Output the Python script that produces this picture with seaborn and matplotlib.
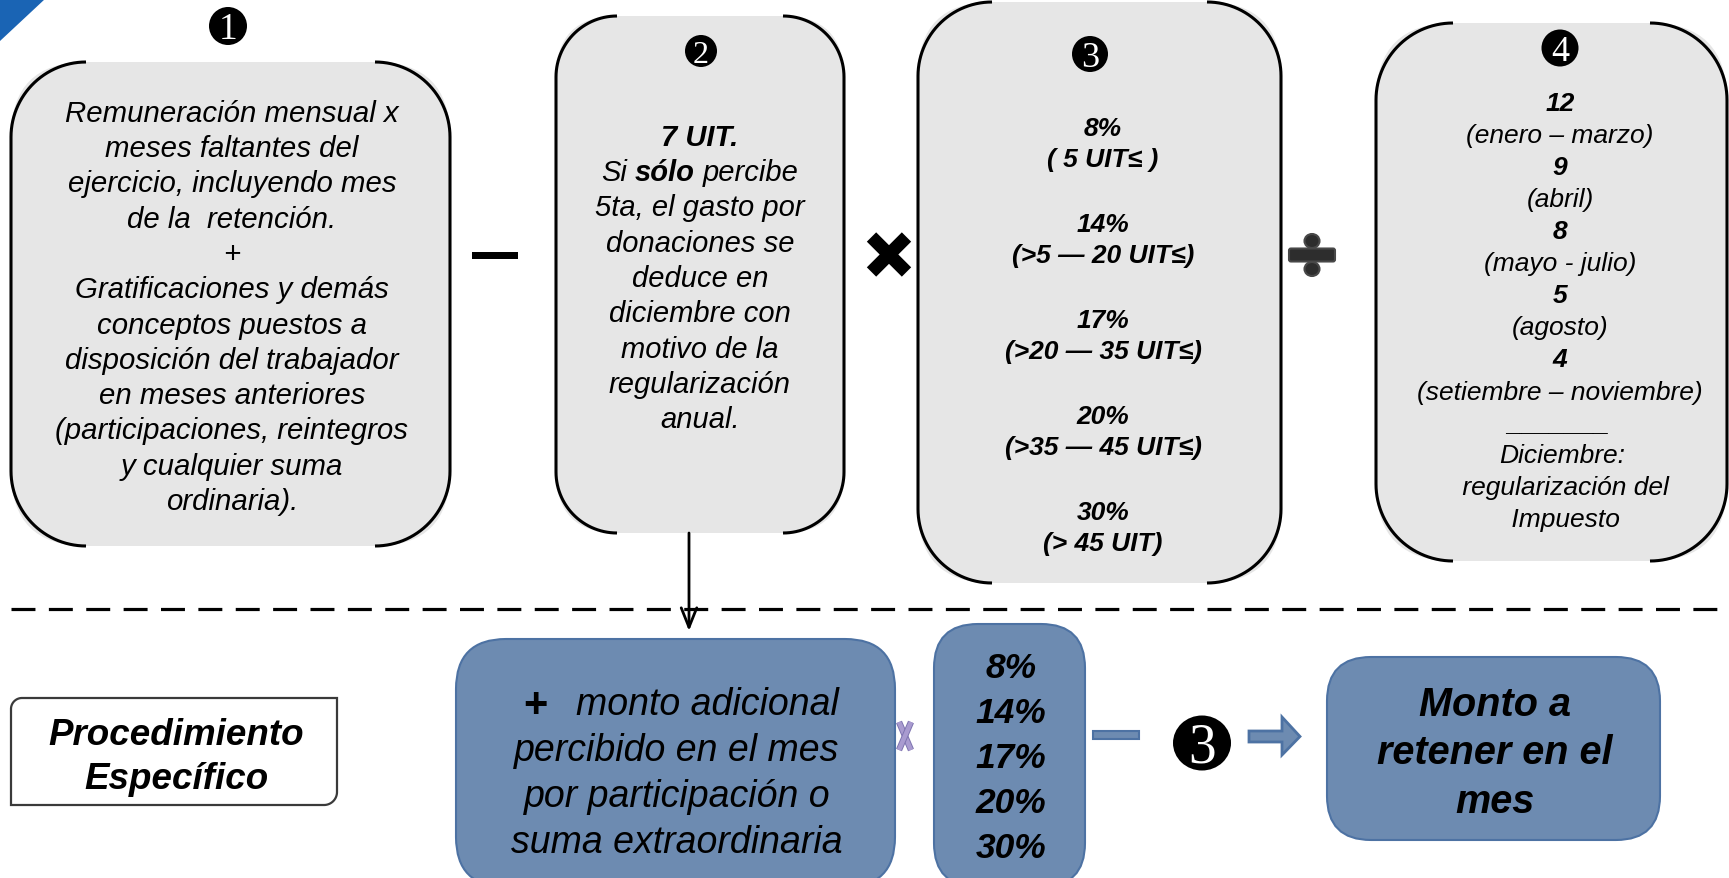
import numpy as np
import seaborn as sns
import matplotlib.pyplot as plt
from matplotlib.patches import FancyBboxPatch, Polygon, Ellipse, Rectangle, FancyArrowPatch
import matplotlib.patheffects as pe

W, H = 1729, 879

# ---- diagram content ----
STEP_DIGITS = ["1", "2", "3", "4"]
BOX1_LINES = ["Remuneración mensual x", "meses faltantes del", "ejercicio, incluyendo mes",
              "de la  retención.", "+", "Gratificaciones y demás", "conceptos puestos a",
              "disposición del trabajador", "en meses anteriores",
              "(participaciones, reintegros", "y cualquier suma", "ordinaria)."]
BOX2_HEAD = "7 UIT."
BOX2_RICH = [("Si", "normal"), ("sólo", "bold"), ("percibe", "normal")]
BOX2_LINES = ["5ta, el gasto por", "donaciones se", "deduce en", "diciembre con",
              "motivo de la", "regularización", "anual."]
RATES = ["8%", "14%", "17%", "20%", "30%"]
BRACKETS = ["( 5 UIT≤ )", "(>5 — 20 UIT≤)", "(>20 — 35 UIT≤)", "(>35 — 45 UIT≤)", "(> 45 UIT)"]
DIVISORS = ["12", "9", "8", "5", "4"]
PERIODS = ["(enero – marzo)", "(abril)", "(mayo - julio)", "(agosto)", "(setiembre – noviembre)"]
DEC_LINES = ["Diciembre:", " regularización del", " Impuesto"]
TITLE_LINES = ["Procedimiento", "Específico"]
EXTRA_LINES = ["monto adicional", "percibido en el mes", "por participación o", "suma extraordinaria"]
RESULT_LINES = ["Monto a", "retener en el", "mes"]

GRAY = "#E6E6E6"
BLUE = "#6D8BB1"
BLUE_EDGE = "#4D72A3"
FAM = ["Liberation Sans", "DejaVu Sans"]
SERIF = ["Liberation Serif", "DejaVu Serif"]

sns.set_theme(style="white")
plt.rcParams["font.family"] = FAM

fig = plt.figure(figsize=(W / 100, H / 100), dpi=100)
ax = fig.add_axes([0, 0, 1, 1])
ax.set_xlim(0, W)
ax.set_ylim(H, 0)
ax.axis("off")


def em(fs):
    return fs * 100 / 72


def put(x, y, s, fs, weight="normal", style="italic", ha="center", color="black", fam=FAM):
    # y is the visual middle of the line; shift to baseline
    return ax.text(x, y + 0.35 * em(fs), s, ha=ha, va="baseline", fontsize=fs,
                   fontweight=weight, fontstyle=style, color=color, family=fam)


def stack(x, y0, dy, items, fs, weight="normal"):
    for i, s in enumerate(items):
        put(x, y0 + i * dy, s, fs, weight)


def rich(x, y, parts, fs):
    r = fig.canvas.get_renderer()

    def width(s, w):
        t = ax.text(0, 0, s, fontsize=fs, fontweight=w, fontstyle="italic", family=FAM)
        v = t.get_window_extent(r).width
        t.remove()
        return v

    sp = width("a a", "normal") - width("aa", "normal")
    ws = [width(s, w) for s, w in parts]
    cur = x - (sum(ws) + sp * (len(parts) - 1)) / 2
    for (s, w), wd in zip(parts, ws):
        put(cur, y, s, fs, w, ha="left")
        cur += wd + sp


def badge(x, y, w, h, digit, fs):
    ax.add_patch(Ellipse((x, y), w, h, fc="black", ec="none", zorder=3))
    ax.text(x, y + 0.33 * em(fs), digit, ha="center", va="baseline", fontsize=fs,
            color="white", family=SERIF, zorder=4)


def arc(cx, cy, r, t0, t1, n=30):
    t = np.radians(np.linspace(t0, t1, n))
    return np.c_[cx + r * np.cos(t), cy + r * np.sin(t)]


def bracket_box(x0, y0, x1, y1, r):
    ax.add_patch(FancyBboxPatch((x0, y0), x1 - x0, y1 - y0,
                                boxstyle=f"round,pad=0,rounding_size={r}",
                                fc=GRAY, ec="none", zorder=1))
    left = np.r_[arc(x0 + r, y0 + r, r, -90, -180), arc(x0 + r, y1 - r, r, 180, 90)]
    right = np.r_[arc(x1 - r, y0 + r, r, -90, 0), arc(x1 - r, y1 - r, r, 0, 90)]
    for p in (left, right):
        ax.plot(p[:, 0], p[:, 1], color="black", lw=2.2, solid_capstyle="butt", zorder=2)


def blue_box(x0, y0, x1, y1, r):
    ax.add_patch(FancyBboxPatch((x0, y0), x1 - x0, y1 - y0,
                                boxstyle=f"round,pad=0,rounding_size={r}",
                                fc=BLUE, ec=BLUE_EDGE, lw=1.5, zorder=1))


# corner decoration
ax.add_patch(Polygon([(0, 0), (45, 0), (0, 42)], closed=True, fc="#1A64B4", ec="none"))

# ---- upper boxes ----
bracket_box(11, 63, 450, 547, 75)
bracket_box(556, 17, 844, 534, 61)
bracket_box(918, 3, 1281, 584, 74)
bracket_box(1376, 24, 1727, 562, 77)

badge_pos = [(228, 27, 38, 27), (701, 52, 32, 23), (1090, 55, 36, 26), (1560, 49, 37, 26)]
for d, (x, y, dia, fs) in zip(STEP_DIGITS, badge_pos):
    badge(x, y, dia, dia, d, fs)

stack(232, 111.4, 35.3, BOX1_LINES, 21.2)

put(700, 135.6, BOX2_HEAD, 21, "bold")
rich(700, 170.9, BOX2_RICH, 21)
stack(700, 206.2, 35.3, BOX2_LINES, 21)

for k, (rate, br) in enumerate(zip(RATES, BRACKETS)):
    y = 126.8 + k * 95.9
    put(1103, y, rate, 19, "bold")
    put(1103, y + 30.9, br, 19, "bold")

for k, (d, p) in enumerate(zip(DIVISORS, PERIODS)):
    put(1560, 101.4 + 2 * k * 32.1, d, 19, "bold")
    put(1560, 101.4 + (2 * k + 1) * 32.1, p, 19)
put(1558, 422, "_______", 19)
stack(1562, 454, 32.1, DEC_LINES, 19)

# operators
ax.add_patch(Rectangle((472, 252.5), 46, 7, fc="black", ec="none"))
for sgn in (1, -1):
    ax.plot([889 - 17.5, 889 + 17.5], [255.5 - 17.5 * sgn, 255.5 + 17.5 * sgn], color="black",
            lw=9.5, solid_capstyle="butt")
ax.add_patch(FancyBboxPatch((1289, 249.5), 46, 13, boxstyle="round,pad=0,rounding_size=2",
                            fc="#2d2d2d", ec="#484848", lw=1.5, zorder=3))
for yy in (242, 270):
    ax.add_patch(Ellipse((1312, yy), 15, 14, fc="#2d2d2d", ec="#484848", lw=1.5, zorder=2))

# separator and connector
ax.plot([11, W], [610, 610], color="black", lw=2.3, dashes=(7.5, 4.2))
ax.add_patch(FancyArrowPatch((689, 534), (689, 632),
                             arrowstyle="->,head_length=0.7,head_width=0.28",
                             mutation_scale=20, lw=2, color="black",
                             shrinkA=0, shrinkB=0, zorder=3))

# ---- lower row ----
x0, y0, x1, y1, r1, r2 = 11, 699, 337, 806, 11, 13
pts = np.r_[[(x0, y1)], arc(x0 + r1, y0 + r1, r1, 180, 270), [(x1, y0)],
            arc(x1 - r2, y1 - r2, r2, 0, 90)]
ax.add_patch(Polygon(pts, closed=True, fc="white", ec="#3a3a3a", lw=1.6))
stack(176, 732, 44, TITLE_LINES, 26.5, "bold")

blue_box(456, 640, 895, 888, 50)
blue_box(934, 625, 1085, 888, 44)
blue_box(1327, 658, 1660, 841, 44)

put(535, 702, "+", 30, "bold", style="normal")
put(576, 702, EXTRA_LINES[0], 27, ha="left")
stack(677, 748, 46, EXTRA_LINES[1:], 27)

stack(1011, 666, 45, RATES, 25.5, "bold")
stack(1495, 702, 48.5, RESULT_LINES, 28.5, "bold")

# small lavender x
for sgn in (1, -1):
    ax.plot([905 - 6, 905 + 6], [737 - 14 * sgn, 737 + 14 * sgn], color="#A99BD0", lw=3.2,
            solid_capstyle="butt",
            path_effects=[pe.Stroke(linewidth=4.6, foreground="#7E74B0"), pe.Normal()])

ax.add_patch(Rectangle((1093, 732), 46, 8, fc=BLUE, ec=BLUE_EDGE, lw=1.5))
badge(1202, 744, 58, 55, "3", 40)
ax.add_patch(Polygon([(1249, 732), (1282, 732), (1282, 718), (1300, 737.5), (1282, 756),
                      (1282, 743), (1249, 743)], closed=True, fc=BLUE, ec=BLUE_EDGE, lw=2))

fig.savefig("out.png", dpi=100)
